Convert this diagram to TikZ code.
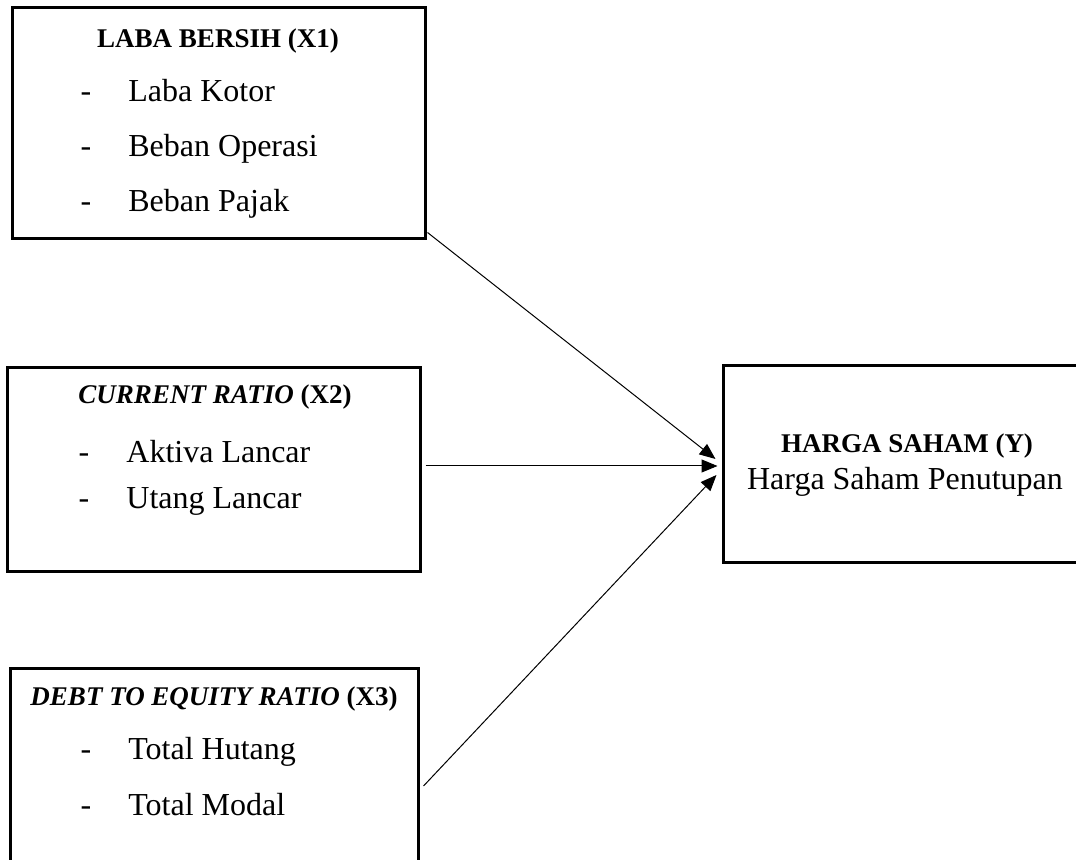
\documentclass[tikz,border=0pt]{standalone}
\usepackage{fontspec}
\setmainfont{Liberation Serif}
\usetikzlibrary{arrows.meta, positioning, fit}

\begin{document}
\begin{tikzpicture}[
  x=0.5pt, y=-0.5pt,
  box/.style={draw, line width=1.5pt, inner sep=0pt},
  ttl/.style={font=\fontsize{13.5}{16}\selectfont\bfseries},
  itm/.style={font=\fontsize{16}{19}\selectfont, anchor=west, inner xsep=0pt,
    text height=11pt, text depth=3.5pt},
  dsh/.style={font=\fontsize{16}{19}\selectfont, text height=11pt, text depth=3.5pt},
  arr/.style={-{Triangle[length=8pt, width=6.5pt]}, line width=0.5pt}
]
  \useasboundingbox (0,0) rectangle (1076,860);
  \clip (0,0) rectangle (1076,860);
  % Boxes (units are pixels of the page)
  \node[box, fit={(12,8) (425,239)}] (x1) {};
  \node[box, fit={(7,368) (420,572)}] (x2) {};
  \node[box, fit={(10,668) (418,880)}] (x3) {};
  \node[box, fit={(723,366) (1090,563)}] (hs) {};
  % Titles
  \node[ttl] (t1) at (218,41) {LABA BERSIH (X1)};
  \node[ttl] (t2) at (215,397) {\textit{CURRENT RATIO} (X2)};
  \node[ttl] (t3) at (214,699) {\textit{DEBT TO EQUITY RATIO} (X3)};
  \node[ttl] (t4) at (907,446) {HARGA SAHAM (Y)};
  \node[dsh] (p4) at (905,482) {Harga Saham Penutupan};
  % Indicators
  \foreach \y/\t [count=\i] in {94/Laba Kotor, 149/Beban Operasi, 204/Beban Pajak}{
    \node[dsh] (da\i) at (86,\y) {-};
    \node[itm] (ia\i) at (128,\y) {\t};
  }
  \foreach \y/\t [count=\i] in {455/Aktiva Lancar, 501/Utang Lancar}{
    \node[dsh] (db\i) at (84,\y) {-};
    \node[itm] (ib\i) at (126,\y) {\t};
  }
  \foreach \y/\t [count=\i] in {752/Total Hutang, 808/Total Modal}{
    \node[dsh] (dc\i) at (86,\y) {-};
    \node[itm] (ic\i) at (128,\y) {\t};
  }
  % Arrows
  \draw[arr] ([shift={(1,-8)}]x1.south east) -- ([shift={(-6,-5.5)}]hs.west);
  \draw[arr] ([shift={(4,-4)}]x2.east) -- ([shift={(-4,1.5)}]hs.west);
  \draw[arr] ([shift={(4,12)}]x3.east) -- ([shift={(-5,10.5)}]hs.west);
\end{tikzpicture}
\end{document}
